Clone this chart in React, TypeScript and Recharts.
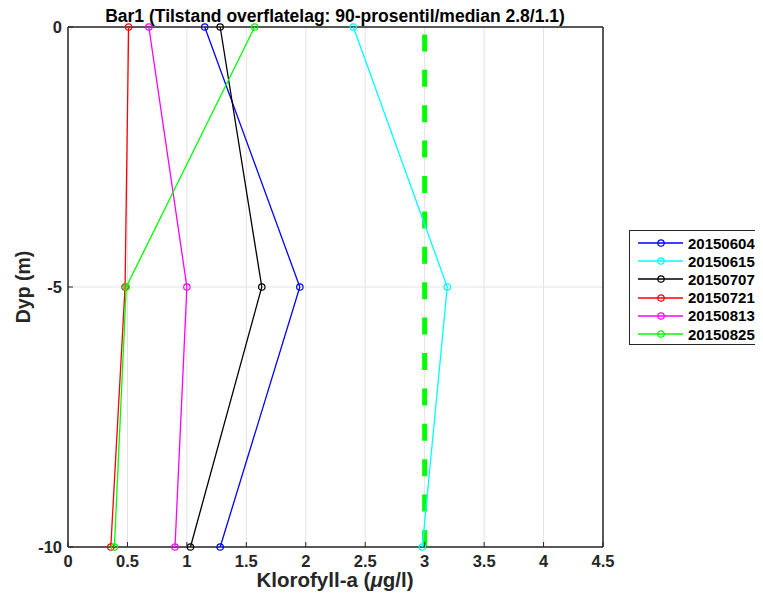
import {
  CartesianGrid,
  Label,
  ReferenceArea,
  ReferenceLine,
  Scatter,
  ScatterChart,
  XAxis,
  YAxis,
} from "recharts";

// depths (m) sampled at each station visit
const depths = [0, -5, -10];

const dates = [
  "20150604",
  "20150615",
  "20150707",
  "20150721",
  "20150813",
  "20150825",
];
const colors = ["#0000ff", "#00ffff", "#000000", "#ff0000", "#ff00ff", "#00ff00"];

// chlorophyll-a (µg/l) at depths 0, -5, -10
const chl20150604 = [1.15, 1.95, 1.28];
const chl20150615 = [2.4, 3.19, 2.98];
const chl20150707 = [1.28, 1.63, 1.03];
const chl20150721 = [0.51, 0.48, 0.36];
const chl20150813 = [0.68, 1.0, 0.9];
const chl20150825 = [1.57, 0.49, 0.39];

const xTicks = [0, 0.5, 1, 1.5, 2, 2.5, 3, 3.5, 4, 4.5];
const yTicks = [-10, -5, 0];
const xDomain = [0, 4.5];
const yDomain = [-10, 0];
const threshold = 3;

const title = "Bar1 (Tilstand overflatelag: 90-prosentil/median 2.8/1.1)";

const values = [chl20150604, chl20150615, chl20150707, chl20150721, chl20150813, chl20150825];
const series = dates.map((name, i) => ({
  name,
  color: colors[i],
  points: values[i].map((v, j) => ({ chl: v, depth: depths[j] })),
}));

const FONT = "'Liberation Sans', Arial, Helvetica, sans-serif";
const AXIS = "#262626";

const BottomTick = ({ x, y, payload }: any) => (
  <g>
    <line x1={x} x2={x} y1={y - 8} y2={y - 13} stroke={AXIS} />
    <text x={x} y={y} dy="0.71em" textAnchor="middle" fontSize={16.5} fontWeight="bold" fill={AXIS} fontFamily={FONT}>
      {payload.value}
    </text>
  </g>
);

const LeftTick = ({ x, y, payload }: any) => (
  <g>
    <line x1={x + 6} x2={x + 11} y1={y} y2={y} stroke={AXIS} />
    <text x={x} y={y} dy="0.35em" textAnchor="end" fontSize={16.5} fontWeight="bold" fill={AXIS} fontFamily={FONT}>
      {payload.value}
    </text>
  </g>
);

const YTitle = ({ viewBox }: any) => {
  const cx = 21.5;
  const cy = viewBox.y + viewBox.height / 2;
  return (
    <text
      x={cx}
      y={cy}
      transform={`rotate(-90 ${cx} ${cy})`}
      textAnchor="middle"
      fontSize={19.5}
      fontWeight="bold"
      fill={AXIS}
      fontFamily={FONT}
    >
      Dyp (m)
    </text>
  );
};

const OpenCircle = (color: string) => (props: any) => (
  <circle cx={props.cx} cy={props.cy} r={3.2} fill="none" stroke={color} strokeWidth={1.2} />
);

const LegendBox = () => (
  <div
    style={{
      position: "absolute",
      left: 621,
      top: 222,
      width: 131,
      height: 115,
      border: `1px solid ${AXIS}`,
      background: "#fff",
      fontFamily: FONT,
      fontWeight: "bold",
      fontSize: 15,
      color: "#000",
      boxSizing: "border-box",
      paddingTop: 3,
    }}
  >
    {series.map((s) => (
      <div key={s.name} style={{ display: "flex", alignItems: "center", height: 18.2 }}>
        <svg width={58} height={12} style={{ flex: "none" }}>
          <line x1={8} x2={53} y1={6} y2={6} stroke={s.color} strokeWidth={1.3} />
          <circle cx={31} cy={6} r={3.2} fill="none" stroke={s.color} strokeWidth={1.2} />
        </svg>
        <span>{s.name}</span>
      </div>
    ))}
  </div>
);

export default function App() {
  return (
    <div style={{ position: "relative", width: 755, height: 584 }}>
      <div
        style={{
          position: "absolute",
          left: 0,
          top: 1,
          width: 654,
          textAlign: "center",
          fontFamily: FONT,
          fontWeight: "bold",
          fontSize: 17.5,
          lineHeight: "15px",
          color: "#000",
          whiteSpace: "nowrap",
        }}
      >
        {title}
      </div>
      <ScatterChart
        width={755}
        height={584}
        margin={{ top: 19, right: 160, bottom: 0, left: 0 }}
      >
        <CartesianGrid stroke="#e3e3e3" strokeWidth={1} />
        <ReferenceArea
          x1={xDomain[0]}
          x2={xDomain[1]}
          y1={yDomain[0]}
          y2={yDomain[1]}
          fill="none"
          fillOpacity={0}
          stroke={AXIS}
          strokeWidth={1}
        />
        <XAxis
          type="number"
          dataKey="chl"
          domain={xDomain}
          ticks={xTicks}
          allowDataOverflow
          height={45}
          tickSize={0}
          tickMargin={8}
          tickLine={false}
          axisLine={{ stroke: AXIS }}
          tick={<BottomTick />}
          interval={0}
        />
        <XAxis
          xAxisId="top"
          type="number"
          dataKey="chl"
          orientation="top"
          mirror
          domain={xDomain}
          ticks={xTicks}
          height={1}
          tickSize={5}
          tickFormatter={() => ""}
          axisLine={{ stroke: AXIS }}
          tickLine={{ stroke: AXIS }}
          interval={0}
        />
        <YAxis
          type="number"
          dataKey="depth"
          domain={yDomain}
          ticks={yTicks}
          width={60}
          tickSize={0}
          tickMargin={6}
          tickLine={false}
          axisLine={{ stroke: AXIS }}
          tick={<LeftTick />}
          interval={0}
        >
          <Label content={<YTitle />} />
        </YAxis>
        <YAxis
          yAxisId="right"
          type="number"
          dataKey="depth"
          orientation="right"
          mirror
          domain={yDomain}
          ticks={yTicks}
          width={1}
          tickSize={5}
          tickFormatter={() => ""}
          axisLine={{ stroke: AXIS }}
          tickLine={{ stroke: AXIS }}
          interval={0}
        />
        <ReferenceLine
          x={threshold}
          stroke="#00ff00"
          strokeWidth={5}
          strokeDasharray="17 18.4"
        />
        {series.map((s) => (
          <Scatter
            key={s.name}
            name={s.name}
            data={s.points}
            fill={s.color}
            line={{ stroke: s.color, strokeWidth: 1.3 }}
            lineType="joint"
            shape={OpenCircle(s.color)}
            isAnimationActive={false}
          />
        ))}
      </ScatterChart>
      <div
        style={{
          position: "absolute",
          left: 0,
          top: 563,
          width: 654,
          textAlign: "center",
          fontFamily: FONT,
          fontWeight: "bold",
          fontSize: 20.5,
          lineHeight: "17px",
          color: AXIS,
          whiteSpace: "nowrap",
        }}
      >
        Klorofyll-a (<span style={{ fontStyle: "italic" }}>μ</span>g/l)
      </div>
      <LegendBox />
    </div>
  );
}
